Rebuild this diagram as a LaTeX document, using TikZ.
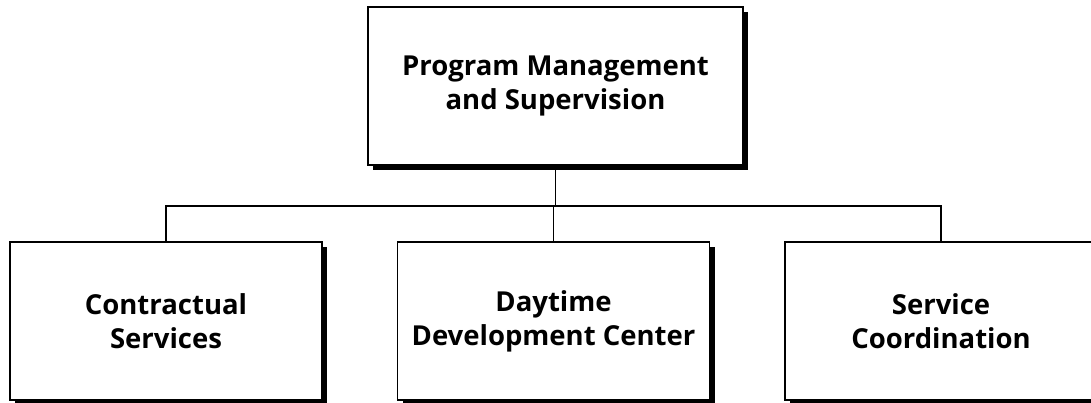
\documentclass[tikz,border=0pt]{standalone}
\usepackage{fontspec}
\setmainfont{Open Sans}[Ligatures=NoCommon]
\usetikzlibrary{shadows}
\begin{document}
\begin{tikzpicture}[x=1pt,y=1pt,
  orgbox/.style={draw=black, line width=1.5pt, fill=white, rectangle,
    align=center, inner sep=0pt,
    font=\fontsize{27.5}{34}\selectfont\bfseries,
    drop shadow={shadow xshift=5pt, shadow yshift=-5pt, fill=black, opacity=1}},
  link/.style={draw=black, line width=1.6pt}]
\useasboundingbox (0,0) rectangle (1091,402);
\fill[white] (0,0) rectangle (1091,402);
\node[orgbox, minimum width=375pt, minimum height=158pt] (top) at (555.5,316) {Program Management\\and Supervision};
\node[orgbox, minimum width=312pt, minimum height=158pt] (a) at (166,81) {Contractual\\Services};
\node[orgbox, minimum width=312pt, minimum height=158pt] (b) at (553.5,81) {Daytime\\Development Center};
\node[orgbox, minimum width=312pt, minimum height=158pt] (c) at (941,81) {Service\\Coordination};
\coordinate (bus) at (555.5,196);
\draw[link] (top.south) -- (top.south |- bus);
\draw[link] (a.north) -- (a.north |- bus) -- (c.north |- bus) -- (c.north);
\draw[link] (b.north) -- (b.north |- bus);
\end{tikzpicture}
\end{document}
